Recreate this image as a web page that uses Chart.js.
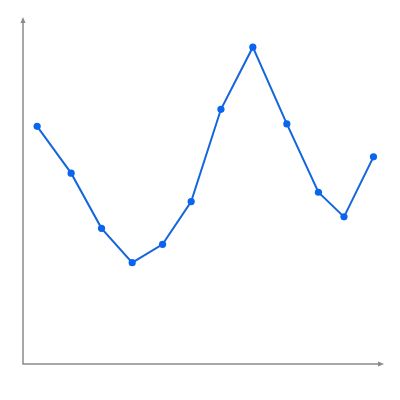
<!DOCTYPE html>
<html>
<head>
<meta charset="utf-8">
<script src="https://cdn.jsdelivr.net/npm/chart.js@4"></script>
<style>
html,body{margin:0;padding:0;background:#fff;}
#wrap{width:400px;height:400px;}
</style>
</head>
<body>
<div id="wrap"><canvas id="c" width="400" height="400"></canvas></div>
<script>
const xValues = [0.47, 1.60, 2.61, 3.63, 4.64, 5.59, 6.58, 7.64, 8.77, 9.82, 10.67, 11.65];
const yValues = [68.5, 55.0, 39.1, 29.2, 34.5, 46.8, 73.4, 91.3, 69.2, 49.5, 42.4, 59.7];

const points = xValues.map((x, i) => ({x: x, y: yValues[i]}));

const axisArrows = {
  id: 'axisArrows',
  beforeDatasetsDraw(chart) {
    const ctx = chart.ctx;
    const a = chart.chartArea;
    ctx.save();
    ctx.strokeStyle = '#8a8a8a';
    ctx.fillStyle = '#8a8a8a';
    ctx.lineWidth = 1.5;
    ctx.beginPath();
    ctx.moveTo(a.left, a.top + 3);
    ctx.lineTo(a.left, a.bottom);
    ctx.lineTo(a.right - 3, a.bottom);
    ctx.stroke();
    // top arrow
    ctx.beginPath();
    ctx.moveTo(a.left, a.top);
    ctx.lineTo(a.left - 2.5, a.top + 6);
    ctx.lineTo(a.left + 2.5, a.top + 6);
    ctx.closePath();
    ctx.fill();
    // right arrow
    ctx.beginPath();
    ctx.moveTo(a.right, a.bottom);
    ctx.lineTo(a.right - 6, a.bottom - 2.5);
    ctx.lineTo(a.right - 6, a.bottom + 2.5);
    ctx.closePath();
    ctx.fill();
    ctx.restore();
  }
};

new Chart(document.getElementById('c'), {
  type: 'line',
  data: {
    datasets: [{
      data: points,
      borderColor: '#1466dc',
      backgroundColor: '#0a64f0',
      pointBackgroundColor: '#0a64f0',
      pointBorderColor: '#0a64f0',
      borderWidth: 2,
      pointRadius: 3.6,
      pointBorderWidth: 0,
      tension: 0,
      fill: false
    }]
  },
  options: {
    responsive: false,
    animation: false,
    layout: {padding: {left: 23, right: 16, top: 17, bottom: 36}},
    plugins: {legend: {display: false}, tooltip: {enabled: false}},
    scales: {
      x: {type: 'linear', min: 0, max: 12, display: false},
      y: {type: 'linear', min: 0, max: 100, display: false}
    }
  },
  plugins: [axisArrows]
});
</script>
</body>
</html>
